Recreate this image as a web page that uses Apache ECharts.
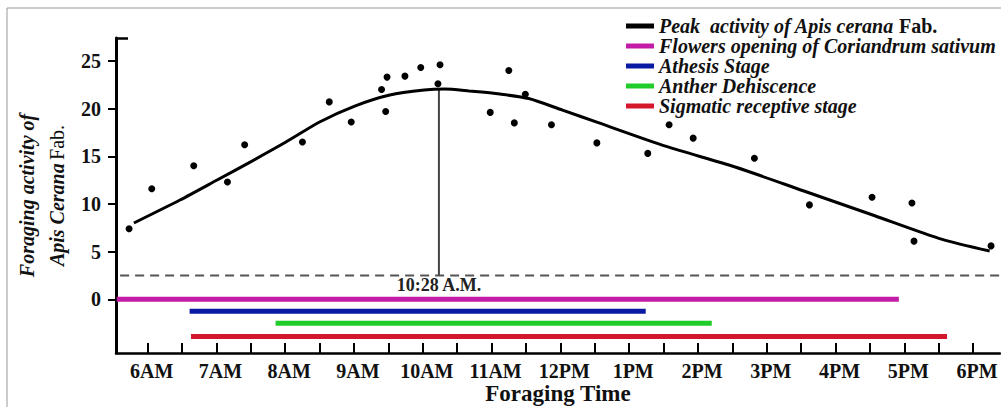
<!DOCTYPE html>
<html>
<head>
<meta charset="utf-8">
<script src="https://cdn.jsdelivr.net/npm/echarts@6/dist/echarts.min.js"></script>
<style>html,body{margin:0;padding:0;background:#fff}#c{width:1001px;height:407px}</style>
</head>
<body>
<div id="c"></div>
<script>
// ---- data ----
const timeLabels = ['6AM','7AM','8AM','9AM','10AM','11AM','12PM','1PM','2PM','3PM','4PM','5PM','6PM'];
const labelHours = [6,7,8,9,10,11,12,13,14,15,16,17,18];
const tickHours = [6,6.5,7,7.5,8,8.5,9,9.5,10,10.5,11,11.5,12,12.5,13,13.5,14,14.5,15,15.5,16,16.5,17,17.5,18];
const yTickValues = [0,5,10,15,20,25];

const obsHours    = [5.73,6.06,6.67,7.16,7.41,8.25,8.64,8.96,9.40,9.46,9.48,9.74,9.97,10.25,10.22,10.98,11.25,11.33,11.49,11.87,12.53,13.27,13.58,13.93,14.82,15.62,16.53,17.11,17.14,18.26];
const obsActivity = [7.4,11.6,14.0,12.3,16.2,16.5,20.7,18.6,22.0,19.7,23.3,23.4,24.3,24.6,22.6,19.6,24.0,18.5,21.5,18.3,16.4,15.3,18.3,16.9,14.8,9.9,10.7,10.1,6.1,5.6];

const fitHours    = [5.80,6.47,7.01,7.49,8.01,8.50,9.01,9.52,10.02,10.32,10.68,11.12,11.54,12.03,12.54,13.54,14.54,15.55,16.55,17.55,18.24];
const fitActivity = [8.00,10.41,12.51,14.39,16.49,18.59,20.26,21.42,21.94,22.04,21.83,21.52,21.05,19.84,18.55,16.03,13.87,11.33,8.81,6.28,5.06];

const peakName = 'Peak  activity of Apis cerana Fab.';
const peakHour = 10.234;      // position of the 10:28 A.M. marker on the drawn axis
const peakLabel = '10:28 A.M.';
const peakTop = 22.0;
const baselineLevel = 2.5;
const baselineStart = 5.6;
const baselineEnd = 18.39;

const stageNames = ['Flowers opening of Coriandrum sativum','Athesis Stage','Anther Dehiscence','Sigmatic receptive stage'];
const stageStart = [5.55,6.61,7.86,6.63];
const stageEnd   = [16.92,13.24,14.20,17.62];
const stageLevel = [0,-1.25,-2.5,-3.9];

// ---- chart ----
const stageColors = ['#c21ba6','#0b1aa3','#1fcc2a','#d4182c'];
const serif = '"Liberation Serif","Times New Roman",serif';

const series = [
  {
    name: peakName, type: 'line', smooth: 0.25, showSymbol: false,
    data: fitHours.map((h,i)=>[h, fitActivity[i]]),
    lineStyle: {color:'#000', width: 3}, itemStyle:{color:'#000'}, z: 5
  },
  {
    name: 'obs', type: 'scatter', symbolSize: 7,
    data: obsHours.map((h,i)=>[h, obsActivity[i]]),
    itemStyle: {color:'#000', opacity: 1}, z: 6
  },
  {
    name: 'baseline', type: 'line', showSymbol: false,
    data: [[baselineStart, baselineLevel],[baselineEnd, baselineLevel]],
    lineStyle: {color:'#555', width: 2, type:[9,6]}, z: 3
  },
  {
    name: 'peak', type: 'line', showSymbol: true, symbol: 'circle', symbolSize: 1,
    itemStyle: {color:'rgba(0,0,0,0)'},
    data: [
      {value:[peakHour, baselineLevel], label:{show:true, position:'bottom', distance:0, formatter: peakLabel,
        fontFamily: serif, fontWeight:'bold', fontSize:18, color:'#222'}},
      [peakHour, peakTop]
    ],
    lineStyle: {color:'#444', width: 2}, z: 4
  }
];
stageNames.forEach((n,i)=>{
  series.push({
    name: n, type:'line', showSymbol:false,
    data: [[stageStart[i], stageLevel[i]],[stageEnd[i], stageLevel[i]]],
    lineStyle:{color: stageColors[i], width: 5}, itemStyle:{color: stageColors[i]}, z: 4
  });
});

const chart = echarts.init(document.getElementById('c'), null, {renderer:'svg'});
chart.setOption({
  animation: false,
  backgroundColor: '#fff',
  grid: {left: 116, right: 1, top: 38, bottom: 54, outerBoundsMode: 'none', containLabel: false},
  legend: {
    data: [peakName].concat(stageNames),
    orient: 'vertical', left: 621, top: 11, itemGap: 0,
    icon: 'rect', itemWidth: 28, itemHeight: 5, selectedMode: false,
    formatter: name => name === peakName ? '{bi|Peak  activity of Apis cerana}{b| Fab.}' : '{bi|' + name + '}',
    textStyle: {
      rich: {
        bi: {fontFamily: serif, fontStyle:'italic', fontWeight:'bold', fontSize:20, lineHeight:20, color:'#111'},
        b:  {fontFamily: serif, fontWeight:'bold', fontSize:20, lineHeight:20, color:'#111'}
      }
    }
  },
  xAxis: {
    type: 'value', min: 5.54, max: 18.39,
    name: 'Foraging Time', nameLocation:'middle', nameGap: 30, nameMoveOverlap: false,
    nameTextStyle: {fontFamily: serif, fontWeight:'bold', fontSize: 23, color:'#111', verticalAlign:'top', lineHeight: 21},
    axisLine: {show:true, onZero:false, lineStyle:{color:'#000', width: 2.5}},
    axisTick: {show:true, inside:true, length: 10, customValues: tickHours, lineStyle:{color:'#000', width:2}},
    axisLabel: {customValues: labelHours, formatter: v => timeLabels[labelHours.indexOf(v)] || '',
      fontFamily: serif, fontWeight:'bold', fontSize: 20, lineHeight: 17, color:'#111', margin: 9, padding:[0,0,0,8]},
    splitLine: {show:false}
  },
  yAxis: [{
    type: 'value', min: -5.63, max: 27.4,
    name: '{i|Foraging activity of}\n{i|Apis Cerana} {n|Fab.}',
    nameLocation: 'middle', nameRotate: 90, nameGap: 44, nameMoveOverlap: false,
    nameTextStyle: {
      rich: {
        i: {fontFamily: serif, fontStyle:'italic', fontWeight:'bold', fontSize: 20, lineHeight: 30, color:'#111'},
        n: {fontFamily: serif, fontSize: 20, lineHeight: 30, color:'#111'}
      }
    },
    axisLine: {show:true, onZero:false, lineStyle:{color:'#000', width: 3}},
    axisTick: {show:true, length: 8, customValues: yTickValues, lineStyle:{color:'#000', width:2}},
    axisLabel: {customValues: yTickValues, fontFamily: serif, fontWeight:'bold', fontSize: 20, color:'#111', margin: 15},
    splitLine: {show:false}
  },{
    type: 'value', min: -5.63, max: 27.4, position:'left',
    axisLine: {show:false},
    axisTick: {show:true, inside:true, length: 12, customValues:[27.4], lineStyle:{color:'#000', width:2.5}},
    axisLabel: {show:false}, splitLine:{show:false}
  }],
  graphic: [{
    type:'polyline', silent:true,
    shape:{points:[[7,407],[7,8],[1001,8]]},
    style:{stroke:'#999', lineWidth:1, fill:null}
  }],
  series: series
});
</script>
</body>
</html>
